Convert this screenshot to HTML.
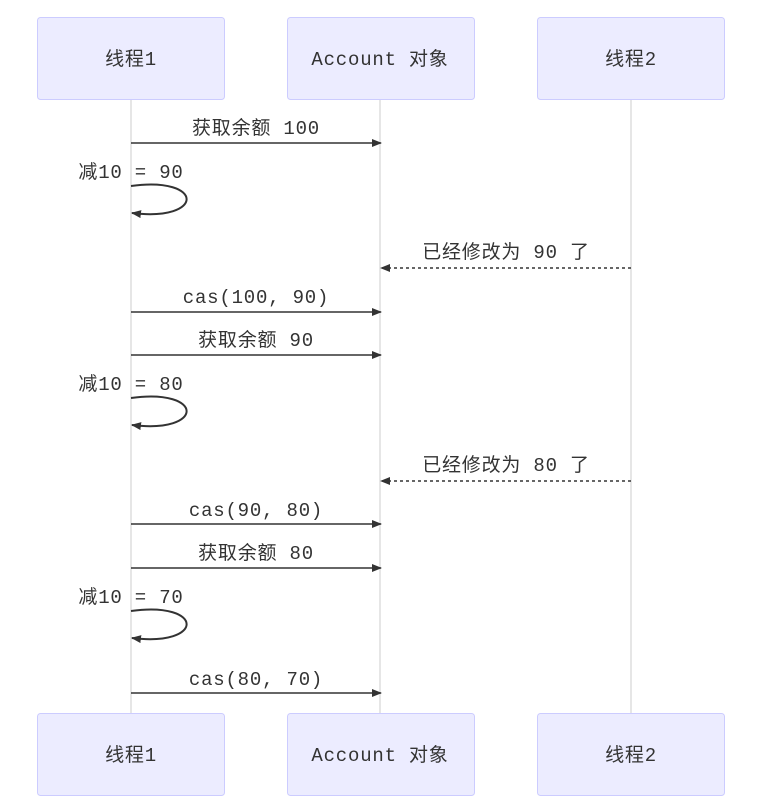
<!DOCTYPE html>
<html><head><meta charset="utf-8"><style>
html,body{margin:0;padding:0;background:#fff;}
svg{display:block;}
text{font-family:"Liberation Mono","Noto Sans CJK SC",monospace;font-size:19px;fill:#333;letter-spacing:0.8px;}
</style></head><body>
<svg width="758" height="812" viewBox="0 0 758 812" xmlns="http://www.w3.org/2000/svg">
<defs>
<marker id="a" markerWidth="10" markerHeight="8" refX="9" refY="4" orient="auto" markerUnits="userSpaceOnUse"><path d="M0,0 L10,4 L0,8 z" fill="#333"/></marker>
</defs>
<g stroke="#ccc" stroke-width="1">
<line x1="131" y1="99" x2="131" y2="713"/>
<line x1="380" y1="99" x2="380" y2="713"/>
<line x1="631" y1="99" x2="631" y2="713"/>
</g>
<g fill="#ECECFF" stroke="#CCCCFF" stroke-width="1">
<rect x="37.5" y="17.5" width="187" height="82" rx="3"/>
<rect x="287.5" y="17.5" width="187" height="82" rx="3"/>
<rect x="537.5" y="17.5" width="187" height="82" rx="3"/>
<rect x="37.5" y="713.5" width="187" height="82" rx="3"/>
<rect x="287.5" y="713.5" width="187" height="82" rx="3"/>
<rect x="537.5" y="713.5" width="187" height="82" rx="3"/>
</g>
<g text-anchor="middle">
<text x="131" y="65">线程1</text>
<text x="380" y="65">Account 对象</text>
<text x="631" y="65">线程2</text>
<text x="131" y="761">线程1</text>
<text x="380" y="761">Account 对象</text>
<text x="631" y="761">线程2</text>
</g>
<g stroke="#333" stroke-width="1.5" fill="none">
<line x1="131" y1="143" x2="381" y2="143" marker-end="url(#a)"/>
<line x1="131" y1="312" x2="381" y2="312" marker-end="url(#a)"/>
<line x1="131" y1="355" x2="381" y2="355" marker-end="url(#a)"/>
<line x1="131" y1="524" x2="381" y2="524" marker-end="url(#a)"/>
<line x1="131" y1="568" x2="381" y2="568" marker-end="url(#a)"/>
<line x1="131" y1="693" x2="381" y2="693" marker-end="url(#a)"/>
<line x1="631" y1="268" x2="381" y2="268" stroke-dasharray="3,3" marker-end="url(#a)"/>
<line x1="631" y1="481" x2="381" y2="481" stroke-dasharray="3,3" marker-end="url(#a)"/>
<path d="M131,186 C205,176 205,222 132,213" stroke-width="2" marker-end="url(#a)"/>
<path d="M131,398 C205,388 205,434 132,425" stroke-width="2" marker-end="url(#a)"/>
<path d="M131,611 C205,601 205,647 132,638" stroke-width="2" marker-end="url(#a)"/>
</g>
<g text-anchor="middle">
<text x="256" y="134">获取余额 100</text>
<text x="131" y="178">减10 = 90</text>
<text x="506" y="258">已经修改为 90 了</text>
<text x="256" y="303">cas(100, 90)</text>
<text x="256" y="346">获取余额 90</text>
<text x="131" y="390">减10 = 80</text>
<text x="506" y="471">已经修改为 80 了</text>
<text x="256" y="516">cas(90, 80)</text>
<text x="256" y="559">获取余额 80</text>
<text x="131" y="603">减10 = 70</text>
<text x="256" y="685">cas(80, 70)</text>
</g>
</svg>
</body></html>
